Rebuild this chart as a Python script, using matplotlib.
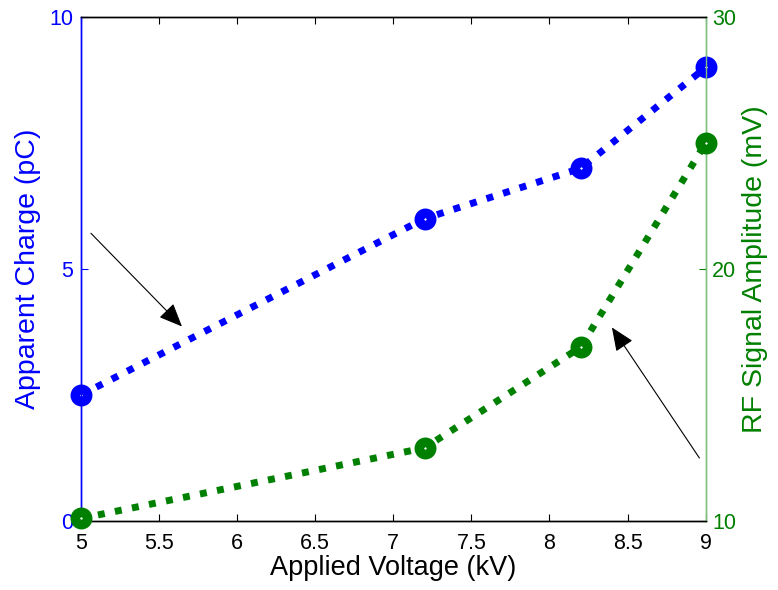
import matplotlib
matplotlib.use("Agg")
import matplotlib.pyplot as plt

plt.rcParams['font.family'] = ['Liberation Sans', 'DejaVu Sans']

voltage = [5.0, 7.2, 8.2, 9.0]
charge_pc = [2.5, 6.0, 7.0, 9.0]
rf_mv = [10.1, 12.9, 16.9, 25.0]

x_ticks = [5, 5.5, 6, 6.5, 7, 7.5, 8, 8.5, 9]
x_ticklabels = ['5', '5.5', '6', '6.5', '7', '7.5', '8', '8.5', '9']
left_ticks = [0, 5, 10]
right_ticks = [10, 20, 30]

# annotation arrows (tail -> head) in left-axis data coordinates
arrow1_tail = (5.064, 5.71)
arrow1_head = (5.647, 3.86)
arrow2_tail = (8.96, 1.25)
arrow2_head = (8.40, 3.84)

blue = '#0000FF'
green = '#008000'

fig = plt.figure(figsize=(7.78, 5.9), dpi=100)
ax = fig.add_axes([0.104, 0.117, 0.803, 0.854])
ax2 = ax.twinx()

line_kw = dict(linewidth=5.0, linestyle=(0, (1.0, 1.5)), dash_capstyle='butt',
               marker='o', markersize=8.9, markeredgewidth=6.9, markerfacecolor='white')
ax.plot(voltage, charge_pc, color=blue, markeredgecolor=blue, clip_on=False, zorder=3, **line_kw)
ax2.plot(voltage, rf_mv, color=green, markeredgecolor=green, clip_on=False, zorder=3, **line_kw)

ax.set_xlim(5, 9)
ax.set_ylim(0, 10)
ax2.set_ylim(10, 30)
ax.set_xticks(x_ticks)
ax.set_xticklabels(x_ticklabels)
ax.set_yticks(left_ticks)
ax2.set_yticks(right_ticks)

fs = 15.5
ax.tick_params(axis='x', direction='in', top=True, labelsize=fs, colors='black', length=5, pad=8.5)
ax.tick_params(axis='y', direction='in', right=False, labelsize=fs, colors=blue, length=5, pad=5.5)
ax2.tick_params(axis='y', direction='in', labelsize=fs, colors=green, length=5, pad=4.5)

for a in (ax, ax2):
    a.spines['top'].set_color('black')
    a.spines['bottom'].set_color('black')
    a.spines['left'].set_color(blue)
    a.spines['right'].set_color('#7fbf7f')
    for s in a.spines.values():
        s.set_linewidth(1.0)

ax.set_xlabel('Applied Voltage (kV)', fontsize=19.5)
ax.set_ylabel('Apparent Charge (pC)', fontsize=20.5, color=blue)
ax2.set_ylabel('RF Signal Amplitude (mV)', fontsize=20.5, color=green)
ax.xaxis.set_label_coords(0.5, -0.067)
ax.yaxis.set_label_coords(-0.064, 0.5)
ax2.yaxis.set_label_coords(1.058, 0.5)

arrow_props = dict(arrowstyle='-|>,head_length=1.45,head_width=0.62', color='black',
                   lw=0.8, shrinkA=0, shrinkB=0)
ax.annotate('', xy=arrow1_head, xytext=arrow1_tail, arrowprops=arrow_props, zorder=4)
ax.annotate('', xy=arrow2_head, xytext=arrow2_tail, arrowprops=arrow_props, zorder=4)

fig.savefig('out.png', dpi=100)
